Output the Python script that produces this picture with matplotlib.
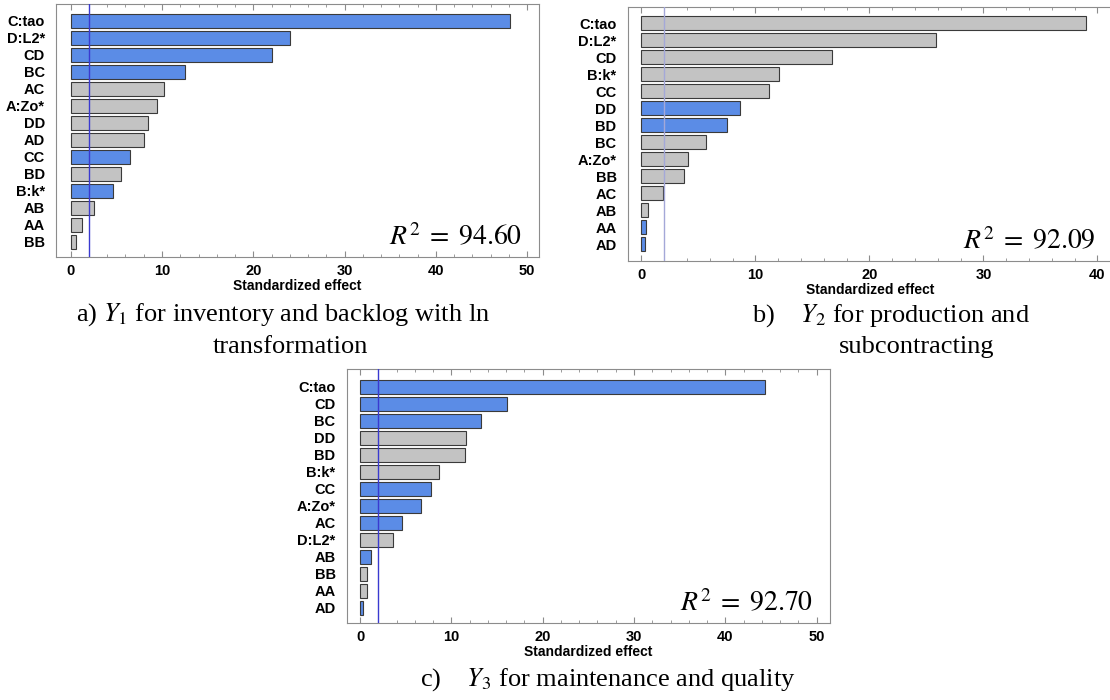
import matplotlib
matplotlib.use('Agg')
import matplotlib.pyplot as plt
import numpy as np
from matplotlib.ticker import MultipleLocator

# #############################################################################
# Datos: efectos estandarizados de cada termino (orden de arriba a abajo)

terminos_y1 = ['C:tao', 'D:L2*', 'CD', 'BC', 'AC', 'A:Zo*', 'DD', 'AD',
               'CC', 'BD', 'B:k*', 'AB', 'AA', 'BB']
efectos_y1 = [48.1, 24.0, 22.0, 12.5, 10.2, 9.4, 8.5, 8.0,
              6.5, 5.5, 4.65, 2.6, 1.2, 0.6]
signos_y1 = ['-', '-', '-', '-', '+', '+', '+', '+',
             '-', '+', '-', '+', '+', '+']

terminos_y2 = ['C:tao', 'D:L2*', 'CD', 'B:k*', 'CC', 'DD', 'BD', 'BC',
               'A:Zo*', 'BB', 'AC', 'AB', 'AA', 'AD']
efectos_y2 = [39.0, 25.8, 16.7, 12.1, 11.15, 8.6, 7.5, 5.7,
              4.1, 3.7, 1.9, 0.6, 0.38, 0.3]
signos_y2 = ['+', '+', '+', '+', '+', '-', '-', '+',
             '+', '+', '+', '+', '-', '-']

terminos_y3 = ['C:tao', 'CD', 'BC', 'DD', 'BD', 'B:k*', 'CC', 'A:Zo*',
               'AC', 'D:L2*', 'AB', 'BB', 'AA', 'AD']
efectos_y3 = [44.3, 16.05, 13.2, 11.6, 11.5, 8.6, 7.75, 6.7,
              4.6, 3.6, 1.25, 0.8, 0.8, 0.35]
signos_y3 = ['-', '-', '-', '+', '+', '+', '-', '-',
             '-', '+', '-', '+', '+', '-']

r2_valores = ['94.60', '92.09', '92.70']
t_critico = 1.96

# #############################################################################
# Estilo general

plt.rcParams['font.family'] = ['Liberation Sans', 'DejaVu Sans']
plt.rcParams['mathtext.fontset'] = 'stix'

AZUL = '#5b8ce6'
GRIS = '#c3c3c3'
BORDE = '#3a3a3a'
EJE = '#8c8c8c'

W, H = 1110, 700
fig = plt.figure(figsize=(W / 100, H / 100), dpi=100)


def caja(x0, y0, x1, y1):
    """Convierte una caja en pixeles (origen arriba a la izquierda)
    a coordenadas de figura"""
    return [x0 / W, 1 - y1 / H, (x1 - x0) / W, (y1 - y0) / H]


def pareto(pos, terminos, efectos, signos, xlim, ylim, xmax_tick, r2,
           color_linea):
    """Dibuja un diagrama de Pareto de efectos estandarizados"""
    ax = fig.add_axes(caja(*pos))
    n = len(terminos)
    y = np.arange(n)[::-1]
    colores = [AZUL if s == '-' else GRIS for s in signos]
    ax.barh(y, efectos, height=0.82, color=colores, edgecolor=BORDE,
            linewidth=0.8, zorder=2)
    ax.axvline(t_critico, color=color_linea, linewidth=1.0, zorder=3)

    ax.set_xlim(*xlim)
    ax.set_ylim(*ylim)
    ax.set_yticks(y)
    ax.set_yticklabels(terminos, fontsize=10.5, fontweight='bold')
    ax.set_xticks(np.arange(0, xmax_tick + 1, 10))
    ax.xaxis.set_minor_locator(MultipleLocator(2))
    for lab in ax.get_xticklabels():
        lab.set_fontweight('bold')
        lab.set_fontsize(10.5)
    ax.tick_params(axis='y', length=0, pad=8)
    ax.tick_params(axis='x', which='both', direction='in', top=True,
                   bottom=True, color=EJE, pad=5)
    ax.tick_params(axis='x', which='major', length=4)
    ax.tick_params(axis='x', which='minor', length=2.5)
    for sp in ax.spines.values():
        sp.set_color(EJE)
        sp.set_linewidth(0.8)
    ax.set_xlabel('Standardized effect', fontsize=10, fontweight='bold',
                  labelpad=1)
    ax.text(0.965, 0.045, r'$R^2\;=\;%s$' % r2, transform=ax.transAxes,
            ha='right', va='baseline', fontsize=20)
    return ax


# a) Y1
pareto((56, 4, 539, 257), terminos_y1, efectos_y1, signos_y1,
       (-1.61, 51.29), (-0.9, 13.98), 50, r2_valores[0], '#3a3ad0')

# b) Y2 (el marco se sale por la derecha)
pareto((627.7, 7, 1113, 260.7), terminos_y2, efectos_y2, signos_y2,
       (-1.21, 41.36), (-0.98, 13.96), 40, r2_valores[1], '#a4a8d8')

# c) Y3
pareto((346.7, 369, 830, 623), terminos_y3, efectos_y3, signos_y3,
       (-1.46, 51.46), (-0.9, 14.04), 50, r2_valores[2], '#3a3ad0')

# #############################################################################
# Leyendas de cada panel

def leyenda(x, y, texto, ha='left'):
    fig.text(x / W, 1 - y / H, texto, ha=ha, va='baseline', fontsize=19,
             family=['Liberation Serif', 'DejaVu Serif'])


leyenda(76, 321, r'a) $Y_1$ for inventory and backlog with ln')
leyenda(290, 353, 'transformation', ha='center')
leyenda(752, 322, r'b)    $Y_2$ for production and')
leyenda(917, 353, 'subcontracting', ha='center')
leyenda(420, 686, r'c)    $Y_3$ for maintenance and quality')

fig.savefig('out.png', dpi=100)
